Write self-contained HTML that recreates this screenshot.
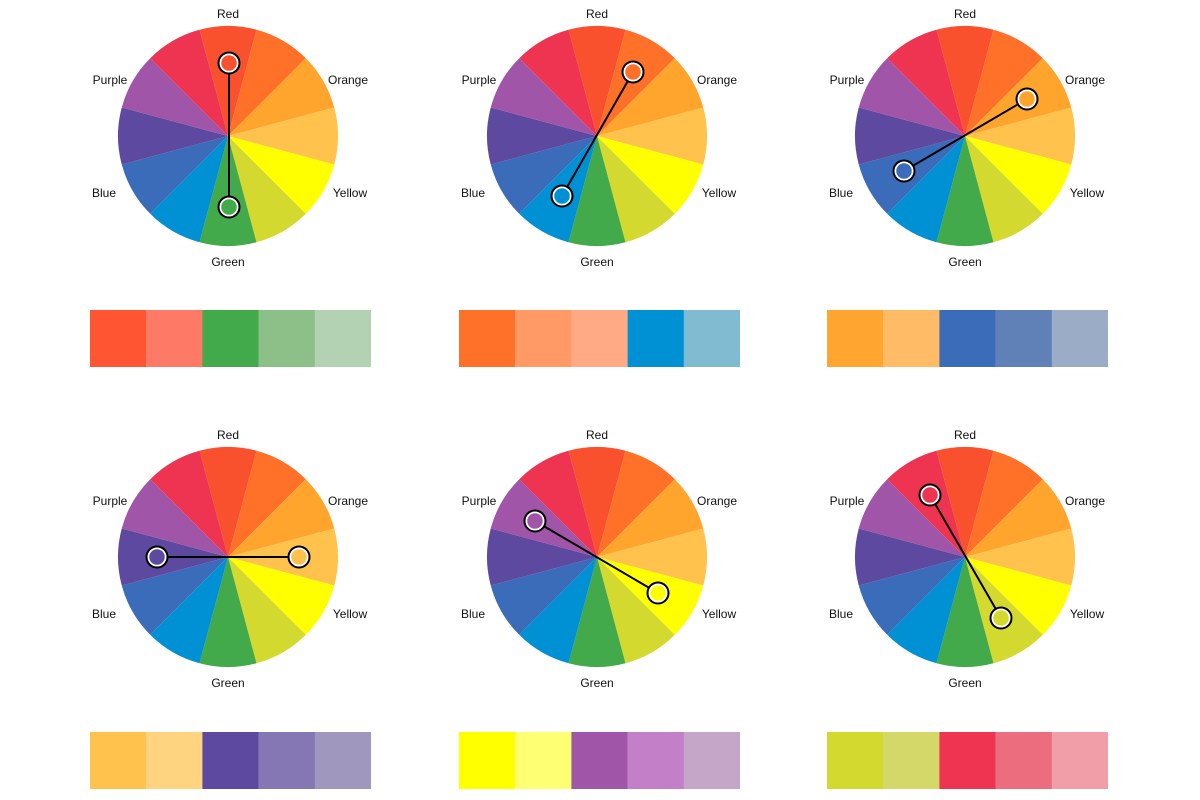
<!DOCTYPE html>
<html><head><meta charset="utf-8"><style>
html,body{margin:0;padding:0;background:#fff;width:1200px;height:800px;overflow:hidden}
text{font-family:"Liberation Sans",sans-serif;font-size:12px;fill:#111;text-anchor:middle}
</style></head><body>
<svg width="1200" height="800" viewBox="0 0 1200 800" xmlns="http://www.w3.org/2000/svg">
<defs>
<g id="w">
<path d="M0 0L-28.47 -106.25A110 110 0 0 1 28.47 -106.25Z" fill="#F9512E"/>
<path d="M0 0L28.47 -106.25A110 110 0 0 1 77.78 -77.78Z" fill="#FF7029"/>
<path d="M0 0L77.78 -77.78A110 110 0 0 1 106.25 -28.47Z" fill="#FFA52E"/>
<path d="M0 0L106.25 -28.47A110 110 0 0 1 106.25 28.47Z" fill="#FFC24C"/>
<path d="M0 0L106.25 28.47A110 110 0 0 1 77.78 77.78Z" fill="#FFFF00"/>
<path d="M0 0L77.78 77.78A110 110 0 0 1 28.47 106.25Z" fill="#D4D930"/>
<path d="M0 0L28.47 106.25A110 110 0 0 1 -28.47 106.25Z" fill="#42AA4A"/>
<path d="M0 0L-28.47 106.25A110 110 0 0 1 -77.78 77.78Z" fill="#0091D5"/>
<path d="M0 0L-77.78 77.78A110 110 0 0 1 -106.25 28.47Z" fill="#3A6CB9"/>
<path d="M0 0L-106.25 28.47A110 110 0 0 1 -106.25 -28.47Z" fill="#5D4AA0"/>
<path d="M0 0L-106.25 -28.47A110 110 0 0 1 -77.78 -77.78Z" fill="#A055A8"/>
<path d="M0 0L-77.78 -77.78A110 110 0 0 1 -28.47 -106.25Z" fill="#EE3450"/>
</g>
</defs>

<!-- wheel 1 -->
<g transform="translate(228,136)"><use href="#w"/>
<text x="0" y="-118">Red</text><text x="120" y="-52">Orange</text><text x="122" y="61">Yellow</text><text x="0" y="130">Green</text><text x="-124" y="61">Blue</text><text x="-118" y="-52">Purple</text>
<line x1="1" y1="-73" x2="1" y2="71" stroke="#000" stroke-width="2"/>
<circle cx="1" cy="-73" r="9" fill="#F9512E" stroke="#fff" stroke-width="2.5"/><circle cx="1" cy="-73" r="10.5" fill="none" stroke="#000" stroke-width="2"/>
<circle cx="1" cy="71" r="9" fill="#42AA4A" stroke="#fff" stroke-width="2.5"/><circle cx="1" cy="71" r="10.5" fill="none" stroke="#000" stroke-width="2"/>
</g>
<!-- wheel 2 -->
<g transform="translate(597,136)"><use href="#w"/>
<text x="0" y="-118">Red</text><text x="120" y="-52">Orange</text><text x="122" y="61">Yellow</text><text x="0" y="130">Green</text><text x="-124" y="61">Blue</text><text x="-118" y="-52">Purple</text>
<line x1="36" y1="-64" x2="-35" y2="60" stroke="#000" stroke-width="2"/>
<circle cx="36" cy="-64" r="9" fill="#FF7029" stroke="#fff" stroke-width="2.5"/><circle cx="36" cy="-64" r="10.5" fill="none" stroke="#000" stroke-width="2"/>
<circle cx="-35" cy="60" r="9" fill="#0091D5" stroke="#fff" stroke-width="2.5"/><circle cx="-35" cy="60" r="10.5" fill="none" stroke="#000" stroke-width="2"/>
</g>
<!-- wheel 3 -->
<g transform="translate(965,136)"><use href="#w"/>
<text x="0" y="-118">Red</text><text x="120" y="-52">Orange</text><text x="122" y="61">Yellow</text><text x="0" y="130">Green</text><text x="-124" y="61">Blue</text><text x="-118" y="-52">Purple</text>
<line x1="62" y1="-37" x2="-61" y2="35" stroke="#000" stroke-width="2"/>
<circle cx="62" cy="-37" r="9" fill="#FFA52E" stroke="#fff" stroke-width="2.5"/><circle cx="62" cy="-37" r="10.5" fill="none" stroke="#000" stroke-width="2"/>
<circle cx="-61" cy="35" r="9" fill="#3A6CB9" stroke="#fff" stroke-width="2.5"/><circle cx="-61" cy="35" r="10.5" fill="none" stroke="#000" stroke-width="2"/>
</g>
<!-- wheel 4 -->
<g transform="translate(228,557)"><use href="#w"/>
<text x="0" y="-118">Red</text><text x="120" y="-52">Orange</text><text x="122" y="61">Yellow</text><text x="0" y="130">Green</text><text x="-124" y="61">Blue</text><text x="-118" y="-52">Purple</text>
<line x1="-71" y1="0" x2="71" y2="0" stroke="#000" stroke-width="2"/>
<circle cx="-71" cy="0" r="9" fill="#5D4AA0" stroke="#fff" stroke-width="2.5"/><circle cx="-71" cy="0" r="10.5" fill="none" stroke="#000" stroke-width="2"/>
<circle cx="71" cy="0" r="9" fill="#FFC24C" stroke="#fff" stroke-width="2.5"/><circle cx="71" cy="0" r="10.5" fill="none" stroke="#000" stroke-width="2"/>
</g>
<!-- wheel 5 -->
<g transform="translate(597,557)"><use href="#w"/>
<text x="0" y="-118">Red</text><text x="120" y="-52">Orange</text><text x="122" y="61">Yellow</text><text x="0" y="130">Green</text><text x="-124" y="61">Blue</text><text x="-118" y="-52">Purple</text>
<line x1="-62" y1="-36" x2="61" y2="36" stroke="#000" stroke-width="2"/>
<circle cx="-62" cy="-36" r="9" fill="#A055A8" stroke="#fff" stroke-width="2.5"/><circle cx="-62" cy="-36" r="10.5" fill="none" stroke="#000" stroke-width="2"/>
<circle cx="61" cy="36" r="9" fill="#FFFF00" stroke="#fff" stroke-width="2.5"/><circle cx="61" cy="36" r="10.5" fill="none" stroke="#000" stroke-width="2"/>
</g>
<!-- wheel 6 -->
<g transform="translate(965,557)"><use href="#w"/>
<text x="0" y="-118">Red</text><text x="120" y="-52">Orange</text><text x="122" y="61">Yellow</text><text x="0" y="130">Green</text><text x="-124" y="61">Blue</text><text x="-118" y="-52">Purple</text>
<line x1="-35" y1="-62" x2="36" y2="61" stroke="#000" stroke-width="2"/>
<circle cx="-35" cy="-62" r="9" fill="#EE3450" stroke="#fff" stroke-width="2.5"/><circle cx="-35" cy="-62" r="10.5" fill="none" stroke="#000" stroke-width="2"/>
<circle cx="36" cy="61" r="9" fill="#D4D930" stroke="#fff" stroke-width="2.5"/><circle cx="36" cy="61" r="10.5" fill="none" stroke="#000" stroke-width="2"/>
</g>

<!-- swatches row 1 -->
<g transform="translate(90,310)">
<rect x="0" width="56.4" height="57" fill="#FF5533"/><rect x="56.2" width="56.4" height="57" fill="#FF7A66"/><rect x="112.4" width="56.4" height="57" fill="#42AA4A"/><rect x="168.6" width="56.4" height="57" fill="#8CC088"/><rect x="224.8" width="56.2" height="57" fill="#B3D1B3"/>
</g>
<g transform="translate(459,310)">
<rect x="0" width="56.4" height="57" fill="#FF7029"/><rect x="56.2" width="56.4" height="57" fill="#FF9966"/><rect x="112.4" width="56.4" height="57" fill="#FFAA85"/><rect x="168.6" width="56.4" height="57" fill="#0091D5"/><rect x="224.8" width="56.2" height="57" fill="#80BBD1"/>
</g>
<g transform="translate(827,310)">
<rect x="0" width="56.4" height="57" fill="#FFA530"/><rect x="56.2" width="56.4" height="57" fill="#FFBB66"/><rect x="112.4" width="56.4" height="57" fill="#3A6CB9"/><rect x="168.6" width="56.4" height="57" fill="#6080B8"/><rect x="224.8" width="56.2" height="57" fill="#9AACC6"/>
</g>
<!-- swatches row 2 -->
<g transform="translate(90,732)">
<rect x="0" width="56.4" height="57" fill="#FFC24C"/><rect x="56.2" width="56.4" height="57" fill="#FFD480"/><rect x="112.4" width="56.4" height="57" fill="#5D4AA0"/><rect x="168.6" width="56.4" height="57" fill="#8577B3"/><rect x="224.8" width="56.2" height="57" fill="#9F97BD"/>
</g>
<g transform="translate(459,732)">
<rect x="0" width="56.4" height="57" fill="#FFFF00"/><rect x="56.2" width="56.4" height="57" fill="#FFFF73"/><rect x="112.4" width="56.4" height="57" fill="#A055A8"/><rect x="168.6" width="56.4" height="57" fill="#C47FC9"/><rect x="224.8" width="56.2" height="57" fill="#C6A6C8"/>
</g>
<g transform="translate(827,732)">
<rect x="0" width="56.4" height="57" fill="#D4D930"/><rect x="56.2" width="56.4" height="57" fill="#D3D868"/><rect x="112.4" width="56.4" height="57" fill="#EE3450"/><rect x="168.6" width="56.4" height="57" fill="#EB6D7E"/><rect x="224.8" width="56.2" height="57" fill="#F19EA9"/>
</g>
</svg>
</body></html>
